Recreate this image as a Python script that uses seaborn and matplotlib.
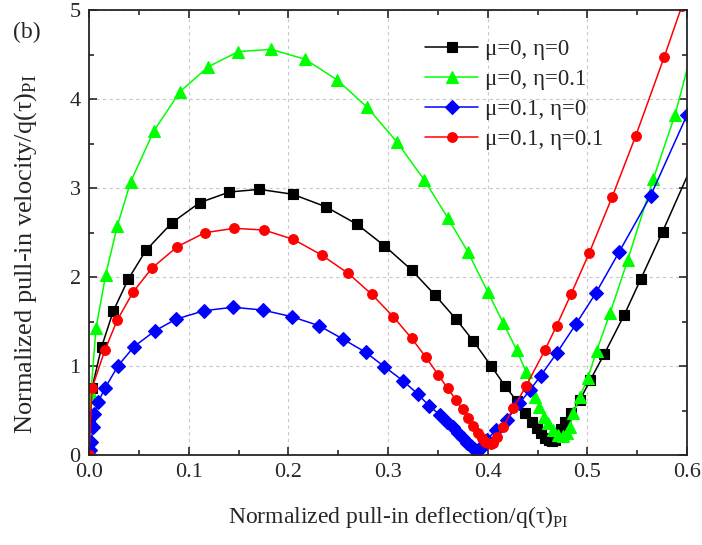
import matplotlib
matplotlib.use("Agg")
import matplotlib.pyplot as plt
import seaborn as sns
import pandas as pd

# Normalized pull-in deflection / velocity for four (mu, eta) cases
x_m0_e0 = [0.0, 0.001, 0.003, 0.0127, 0.0244, 0.0395, 0.0572, 0.0833, 0.111, 0.1408,
           0.1709, 0.2043, 0.2374, 0.2686, 0.2963, 0.3237, 0.3474, 0.3682, 0.3856, 0.4033,
           0.4177, 0.429, 0.4377, 0.444, 0.449, 0.454, 0.458, 0.462, 0.465, 0.468,
           0.471, 0.474, 0.478, 0.484, 0.4926, 0.503, 0.517, 0.537, 0.5535, 0.5755, 0.61]
y_m0_e0 = [0.0, 0.35, 0.75, 1.217, 1.618, 1.978, 2.30, 2.61, 2.835, 2.955,
           2.985, 2.93, 2.79, 2.595, 2.352, 2.079, 1.794, 1.528, 1.281, 1.003,
           0.772, 0.61, 0.468, 0.374, 0.30, 0.244, 0.195, 0.165, 0.155, 0.17,
           0.22, 0.29, 0.37, 0.468, 0.618, 0.843, 1.135, 1.573, 1.974, 2.51, 3.38]

x_m0_e1 = [0.0, 0.002, 0.007, 0.0167, 0.0284, 0.0418, 0.0652, 0.0913, 0.1197, 0.1498,
           0.1826, 0.217, 0.2491, 0.2792, 0.3087, 0.3364, 0.3599, 0.38, 0.4, 0.4157,
           0.4291, 0.4384, 0.4475, 0.4518, 0.4565, 0.4608, 0.4659, 0.4709, 0.4759, 0.480,
           0.4826, 0.486, 0.4926, 0.5003, 0.5093, 0.5227, 0.5405, 0.5661, 0.5879, 0.61]
y_m0_e1 = [0.0, 0.7, 1.423, 2.022, 2.573, 3.07, 3.644, 4.082, 4.363, 4.532,
           4.558, 4.446, 4.213, 3.906, 3.52, 3.09, 2.666, 2.284, 1.835, 1.48,
           1.18, 0.936, 0.655, 0.543, 0.43, 0.356, 0.281, 0.225, 0.21, 0.25,
           0.32, 0.47, 0.655, 0.86, 1.169, 1.592, 2.19, 3.098, 3.82, 4.75]

x_m1_e0 = [0.0, 0.001, 0.002, 0.0043, 0.0053, 0.0093, 0.016, 0.029, 0.0451, 0.0659,
           0.087, 0.1154, 0.1442, 0.1743, 0.2034, 0.2308, 0.2552, 0.2776, 0.2963, 0.3154,
           0.3298, 0.3415, 0.3522, 0.3589, 0.365, 0.370, 0.375, 0.379, 0.383, 0.386,
           0.389, 0.392, 0.395, 0.399, 0.4083, 0.419, 0.4318, 0.4425, 0.4532, 0.4692,
           0.4886, 0.5084, 0.5317, 0.5635, 0.6]
y_m1_e0 = [0.0, 0.06, 0.15, 0.318, 0.457, 0.6, 0.75, 1.0, 1.217, 1.393,
           1.525, 1.621, 1.66, 1.629, 1.554, 1.453, 1.30, 1.154, 0.993, 0.831,
           0.685, 0.551, 0.449, 0.374, 0.31, 0.25, 0.19, 0.14, 0.10, 0.07,
           0.05, 0.07, 0.11, 0.169, 0.281, 0.393, 0.581, 0.73, 0.89, 1.143,
           1.472, 1.817, 2.277, 2.913, 3.82]

x_m1_e1 = [0.0, 0.003, 0.016, 0.0284, 0.0445, 0.0629, 0.0886, 0.1164, 0.1458, 0.1756,
           0.205, 0.2334, 0.2602, 0.2836, 0.3053, 0.3237, 0.3381, 0.3505, 0.3599, 0.3682,
           0.3749, 0.3806, 0.3856, 0.3906, 0.394, 0.397, 0.400, 0.403, 0.4057, 0.409,
           0.4157, 0.4257, 0.4385, 0.4575, 0.4692, 0.4836, 0.502, 0.525, 0.5485, 0.577, 0.595]
y_m1_e1 = [0.0, 0.75, 1.18, 1.517, 1.835, 2.097, 2.341, 2.498, 2.547, 2.528,
           2.423, 2.247, 2.04, 1.806, 1.554, 1.311, 1.098, 0.899, 0.749, 0.618,
           0.513, 0.412, 0.326, 0.244, 0.188, 0.15, 0.13, 0.125, 0.14, 0.206,
           0.318, 0.525, 0.775, 1.18, 1.453, 1.806, 2.273, 2.902, 3.584, 4.468, 5.05]

labels = ["μ=0, η=0", "μ=0, η=0.1", "μ=0.1, η=0", "μ=0.1, η=0.1"]
colors = ["#000000", "#00ff00", "#0000ff", "#ff0000"]
markers = ["s", "^", "D", "o"]
msizes = [6.5, 8.0, 7.0, 7.0]

sns.set_style("ticks")
plt.rcParams["font.family"] = ["Liberation Serif", "DejaVu Serif"]
plt.rcParams["mathtext.fontset"] = "custom"
plt.rcParams["mathtext.rm"] = "Liberation Serif"
plt.rcParams["xtick.direction"] = "in"
plt.rcParams["ytick.direction"] = "in"

fig = plt.figure(figsize=(7.02, 5.45), dpi=100)
ax = fig.add_axes([89 / 702, 90 / 545, 598 / 702, 445 / 545])

series = [(x_m0_e0, y_m0_e0), (x_m0_e1, y_m0_e1), (x_m1_e0, y_m1_e0), (x_m1_e1, y_m1_e1)]
for (xs, ys), lab, c, m, ms in zip(series, labels, colors, markers, msizes):
    df = pd.DataFrame({"x": xs, "y": ys})
    sns.lineplot(data=df, x="x", y="y", ax=ax, sort=False, estimator=None,
                 color=c, marker=m, markersize=ms, markeredgecolor=c,
                 markeredgewidth=0.8, linewidth=1.1, label=lab)

ax.set_xlim(0, 0.6)
ax.set_ylim(0, 5)
ax.set_xticks([0.0, 0.1, 0.2, 0.3, 0.4, 0.5, 0.6])
ax.set_xticklabels(["0.0", "0.1", "0.2", "0.3", "0.4", "0.5", "0.6"])
ax.set_yticks([0, 1, 2, 3, 4, 5])
ax.set_xticks([0.05, 0.15, 0.25, 0.35, 0.45, 0.55], minor=True)
ax.set_yticks([0.5, 1.5, 2.5, 3.5, 4.5], minor=True)
ax.tick_params(which="both", top=True, right=True, labelsize=16, width=1.2)
ax.tick_params(which="major", length=6, pad=6)
ax.tick_params(which="minor", length=3.5)
ax.grid(True, which="major", linestyle=(0, (3, 3)), color="#c8c8c8", linewidth=0.8)
for s in ax.spines.values():
    s.set_linewidth(1.3)
    s.set_visible(True)

ax.set_xlabel("Normalized pull-in deflection/q(τ)$_{\\rm PI}$", fontsize=17)
ax.xaxis.set_label_coords(0.518, -0.11)
ax.set_ylabel("Normalized pull-in velocity/q(τ)$_{\\rm PI}$", fontsize=19)
ax.yaxis.set_label_coords(-0.084, 0.452)

ax.legend(loc="upper left", bbox_to_anchor=(0.542, 0.96), frameon=False,
          fontsize=16.5, handlelength=2.35, handletextpad=0.3, labelspacing=0.38,
          borderpad=0)

fig.text(13 / 702, 1 - 32 / 545, "(b)", fontsize=17, va="center", ha="left")

fig.savefig("out.png", dpi=100)
